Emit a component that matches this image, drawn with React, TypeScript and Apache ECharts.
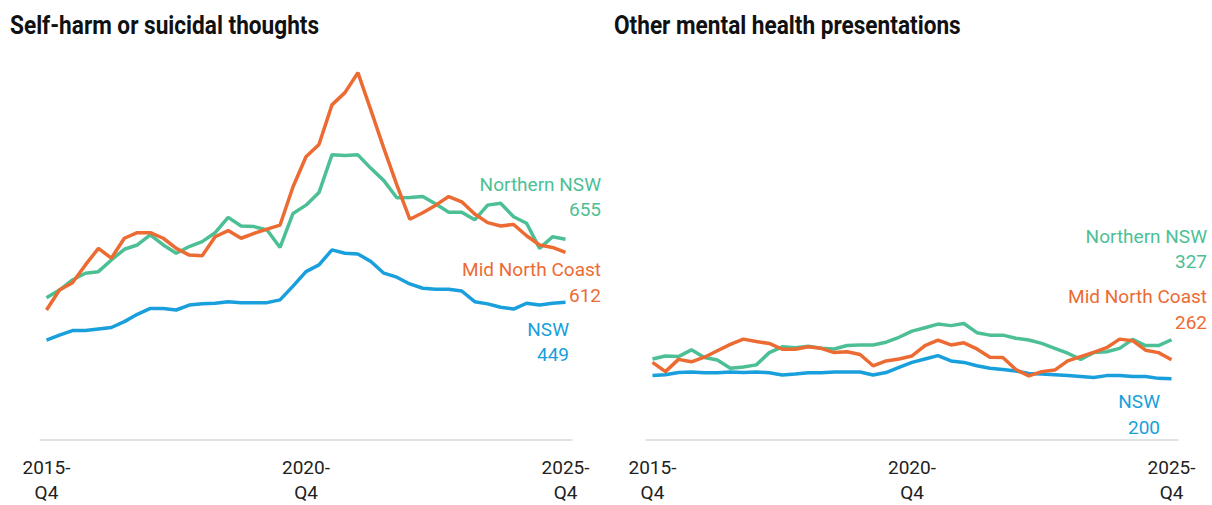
import React, { useEffect, useRef } from "react";
import * as echarts from "echarts";

const quarters: string[] = [];
for (let y = 2015; y <= 2025; y++) {
  for (let q = 1; q <= 4; q++) {
    if ((y === 2015 && q < 4) || (y === 2025 && q > 4)) continue;
    quarters.push(`${y}-Q${q}`);
  }
}

// Self-harm or suicidal thoughts
const shNorthern = [464, 489, 522, 544, 549, 587, 622, 636, 669, 636, 609, 631, 647, 676, 726, 698, 696, 685, 628, 739, 766, 807, 930, 928, 930, 886, 846, 790, 791, 794, 770, 743, 743, 718, 766, 772, 728, 707, 625, 663, 655];
const shMidNorth = [424, 489, 513, 571, 625, 593, 658, 676, 676, 658, 625, 603, 601, 663, 683, 658, 674, 688, 701, 826, 924, 964, 1093, 1133, 1198, 1076, 951, 832, 720, 741, 766, 794, 777, 737, 709, 698, 703, 666, 636, 628, 612];
const shNSW = [326, 342, 357, 357, 362, 367, 386, 410, 429, 429, 424, 440, 444, 446, 451, 448, 448, 448, 457, 502, 549, 571, 620, 609, 607, 582, 544, 531, 509, 495, 492, 492, 486, 451, 444, 433, 427, 446, 440, 446, 449];

// Other mental health presentations
const omNorthern = [264, 274, 272, 294, 269, 261, 234, 238, 245, 285, 304, 301, 306, 299, 297, 308, 310, 310, 319, 335, 355, 366, 378, 373, 380, 350, 342, 342, 332, 326, 315, 299, 283, 263, 285, 288, 299, 328, 308, 308, 327];
const omMidNorth = [253, 223, 263, 255, 270, 291, 312, 329, 321, 315, 296, 296, 304, 299, 285, 288, 279, 242, 258, 264, 274, 308, 326, 310, 317, 297, 270, 269, 230, 209, 223, 228, 258, 272, 286, 301, 329, 324, 293, 285, 262];
const omNSW = [210, 213, 220, 222, 219, 219, 222, 220, 222, 219, 212, 215, 219, 219, 222, 222, 222, 212, 220, 237, 253, 264, 275, 258, 253, 242, 234, 230, 225, 217, 215, 213, 210, 207, 204, 210, 210, 207, 207, 201, 200];

const titles = ["Self-harm or suicidal thoughts", "Other mental health presentations"];
const seriesNames = ["Northern NSW", "Mid North Coast", "NSW"];

const GREEN = "#4dbf95";
const ORANGE = "#ec6b33";
const BLUE = "#199fdb";

const LABEL_FONT = "19px Roboto, 'Noto Sans', sans-serif";
const TITLE_FONT = "bold 25px Roboto, sans-serif";

export default function App() {
  const ref = useRef<HTMLDivElement>(null);
  useEffect(() => {
    if (!ref.current) return;
    const chart = echarts.init(ref.current, null, { renderer: "svg" });

    const xAxisBase = (gridIndex: number) => ({
      type: "category" as const,
      gridIndex,
      data: quarters,
      boundaryGap: true,
      axisLine: { lineStyle: { color: "#d9d9d9", width: 1.5 } },
      axisTick: { show: false },
      axisLabel: {
        interval: 19,
        formatter: (v: string) => v.replace("-", "-\n"),
        color: "#222",
        fontSize: 19,
        fontFamily: "Roboto, sans-serif",
        lineHeight: 25,
        margin: 15,
      },
    });
    const yAxisBase = (gridIndex: number) => ({
      type: "value" as const,
      gridIndex,
      min: 0,
      max: 1300,
      show: false,
      splitLine: { show: false },
    });
    const line = (name: string, data: number[], color: string, idx: number) => ({
      name,
      type: "line" as const,
      xAxisIndex: idx,
      yAxisIndex: idx,
      data,
      symbol: "none",
      lineStyle: { color, width: 3.5 },
      itemStyle: { color },
    });

    const txt = (text: string, x: number, y: number, fill: string, font: string, align = "right", scaleX = 1) => ({
      type: "text" as const,
      x,
      y,
      scaleX,
      style: { text, fill, font, textAlign: align, textVerticalAlign: "middle" },
    });

    chart.setOption({
      animation: false,
      backgroundColor: "#ffffff",
      grid: [
        { left: 40, width: 532, top: 41.4, bottom: 65 },
        { left: 646, width: 532, top: 41.4, bottom: 65 },
      ],
      xAxis: [xAxisBase(0), xAxisBase(1)],
      yAxis: [yAxisBase(0), yAxisBase(1)],
      series: [
        line(seriesNames[2], shNSW, BLUE, 0),
        line(seriesNames[0], shNorthern, GREEN, 0),
        line(seriesNames[1], shMidNorth, ORANGE, 0),
        line(seriesNames[2], omNSW, BLUE, 1),
        line(seriesNames[0], omNorthern, GREEN, 1),
        line(seriesNames[1], omMidNorth, ORANGE, 1),
      ],
      graphic: [
        txt(titles[0], 10, 26, "#111", TITLE_FONT, "left", 0.905),
        txt(titles[1], 614, 26, "#111", TITLE_FONT, "left", 0.905),
        txt(seriesNames[0], 601, 184, GREEN, LABEL_FONT),
        txt(String(shNorthern[40]), 601, 209, GREEN, LABEL_FONT),
        txt(seriesNames[1], 601, 269, ORANGE, LABEL_FONT),
        txt(String(shMidNorth[40]), 601, 295, ORANGE, LABEL_FONT),
        txt(seriesNames[2], 569, 329, BLUE, LABEL_FONT),
        txt(String(shNSW[40]), 569, 354, BLUE, LABEL_FONT),
        txt(seriesNames[0], 1207, 236, GREEN, LABEL_FONT),
        txt("327", 1207, 261, GREEN, LABEL_FONT),
        txt(seriesNames[1], 1207, 296, ORANGE, LABEL_FONT),
        txt("262", 1207, 322, ORANGE, LABEL_FONT),
        txt(seriesNames[2], 1160, 401, BLUE, LABEL_FONT),
        txt(String(omNSW[40]), 1160, 427, BLUE, LABEL_FONT),
      ],
    });
    return () => chart.dispose();
  }, []);
  return (
    <div
      ref={ref}
      style={{ position: "fixed", left: 0, top: 0, width: 1212, height: 505, background: "#fff" }}
    />
  );
}
